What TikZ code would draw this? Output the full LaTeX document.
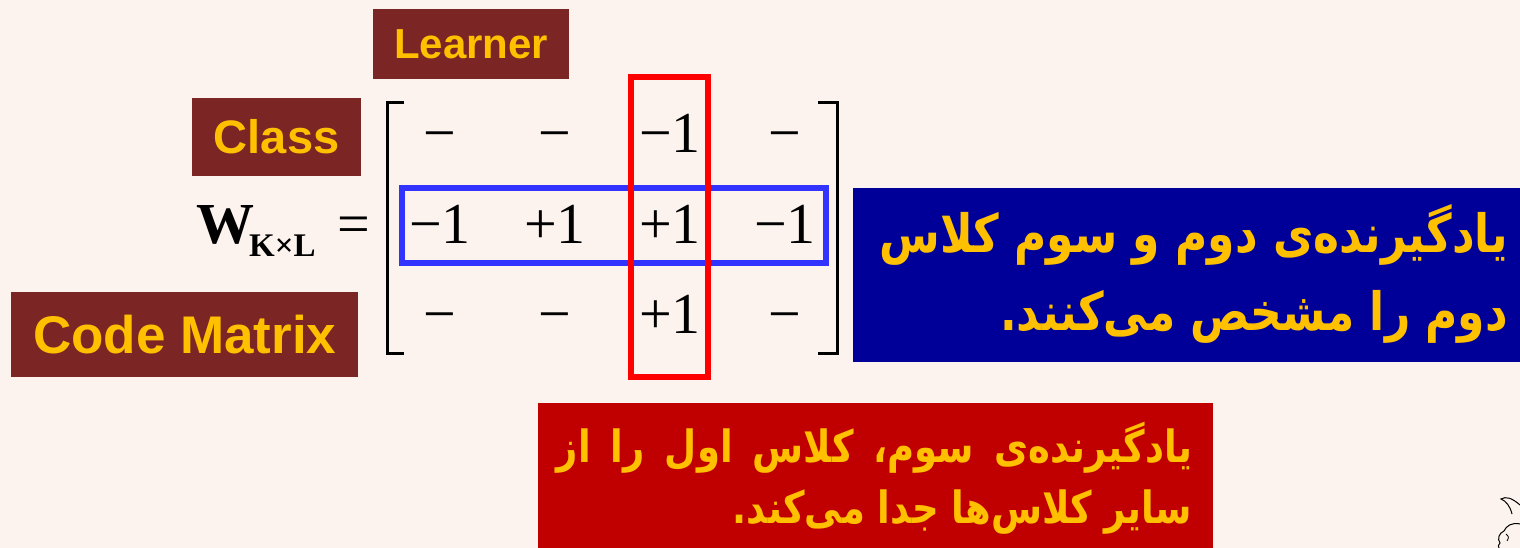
\documentclass[tikz,border=0pt]{standalone}
\usepackage{graphicx}
\usepackage{fontspec}
\setmainfont{Liberation Serif}
\newfontfamily\arialb{Liberation Sans}
\newfontfamily\fa[Script=Arabic]{DejaVu Sans}
\TeXXeTstate=1
\definecolor{bgc}{RGB}{253,243,238}
\definecolor{labbrown}{RGB}{123,37,37}
\definecolor{gold}{RGB}{255,192,0}
\definecolor{navyc}{RGB}{0,0,153}
\definecolor{darkredc}{RGB}{192,0,0}
\definecolor{outred}{RGB}{255,0,0}
\definecolor{outblue}{RGB}{51,51,255}
\begin{document}
\begin{tikzpicture}[x=1pt,y=-1pt,
  labbox/.style={fill=labbrown, text=gold, inner sep=0pt, anchor=north west},
  num/.style={font=\fontsize{58}{60}\selectfont, anchor=base, inner sep=0pt},
  txtbox/.style={inner sep=0pt, anchor=north west},
  fatext/.style={text=gold, inner sep=0pt, anchor=base east, font=\fa\bfseries\fontsize{44}{48}\selectfont},
  fasmall/.style={fatext, font=\fa\bfseries\fontsize{37}{40}\selectfont},
  bracket/.style={line width=3pt, black}]
\fill[bgc] (0,0) rectangle (1520,548);
\useasboundingbox (0,0) rectangle (1520,548);

% labels
\node[labbox, minimum width=196pt, minimum height=70pt, font=\arialb\bfseries\fontsize{42}{44}\selectfont] (learner) at (373,9) {Learner};
\node[labbox, minimum width=169pt, minimum height=78pt, font=\arialb\bfseries\fontsize{47}{50}\selectfont] (class) at (192,98) {Class};
\node[labbox, minimum width=347pt, minimum height=85pt, font=\arialb\bfseries\fontsize{53}{56}\selectfont] (code) at (11,292) {Code Matrix};

% W_{KxL} =
\node[inner sep=0pt, anchor=base west, font=\bfseries\fontsize{58}{60}\selectfont] (w) at (196,243) {W};
\node[inner sep=0pt, anchor=base west, font=\bfseries\fontsize{33}{35}\selectfont] (wsub) at (249,256) {K\char"00D7 L};
\node[num] (eq) at (354,243) {=};

% brackets
\draw[bracket] (404,103) -- (387,103) -- (387,353) -- (404,353);
\draw[bracket] (818,103) -- (837,103) -- (837,353) -- (818,353);

% entries
\node[num] (a11) at (440,153) {\char"2212};
\node[num] (a12) at (555,153) {\char"2212};
\node[num] (a13) at (670,153) {\char"2212 1};
\node[num] (a14) at (785,153) {\char"2212};
\node[num] (a21) at (440,243) {\char"2212 1};
\node[num] (a22) at (555,243) {+1};
\node[num] (a23) at (670,243) {+1};
\node[num] (a24) at (785,243) {\char"2212 1};
\node[num] (a31) at (440,333) {\char"2212};
\node[num] (a32) at (555,333) {\char"2212};
\node[num] (a33) at (670,333) {+1};
\node[num] (a34) at (785,333) {\char"2212};

% highlight boxes
\draw[outblue, line width=5.5pt] (402,188) rectangle (826,263);
\draw[outred, line width=5.5pt] (631,77) rectangle (708,377);

% blue text box
\node[txtbox, fill=navyc, minimum width=667pt, minimum height=174pt] (bluebox) at (853,188) {};
\node[fatext] (b1) at (1508,252) {\scalebox{1}[1.2]{\beginR یادگیرنده^^^^200cی دوم و سوم کلاس\endR}};
\node[fatext] (b2) at (1508,330) {\scalebox{1}[1.2]{\beginR دوم را مشخص می^^^^200cکنند.\endR}};

% red text box
\node[txtbox, fill=darkredc, minimum width=675pt, minimum height=145pt] (redbox) at (538,403) {};
\node[fasmall] (r1) at (1192,462) {\scalebox{1}[1.2]{\hbox to 635pt{\beginR یادگیرنده^^^^200cی\hfill سوم،\hfill کلاس\hfill اول\hfill را\hfill از\endR}}};
\node[fasmall] (r2) at (1192,523) {\scalebox{1}[1.2]{\beginR سایر کلاس^^^^200cها جدا می^^^^200cکند.\endR}};

% corner clip-art fragment
\draw[line width=1pt] (1520,505) .. controls (1512,498) and (1506,496) .. (1501,499)
  .. controls (1506,501) and (1510,506) .. (1512,514);
\draw[line width=1pt] (1520,524) .. controls (1512,522) and (1506,526) .. (1504,531)
  .. controls (1499,533) and (1497,539) .. (1500,543)
  .. controls (1498,546) .. (1499,548);
\draw[line width=0.8pt] (1506,534) .. controls (1509,537) .. (1507,541);
\end{tikzpicture}
\end{document}
